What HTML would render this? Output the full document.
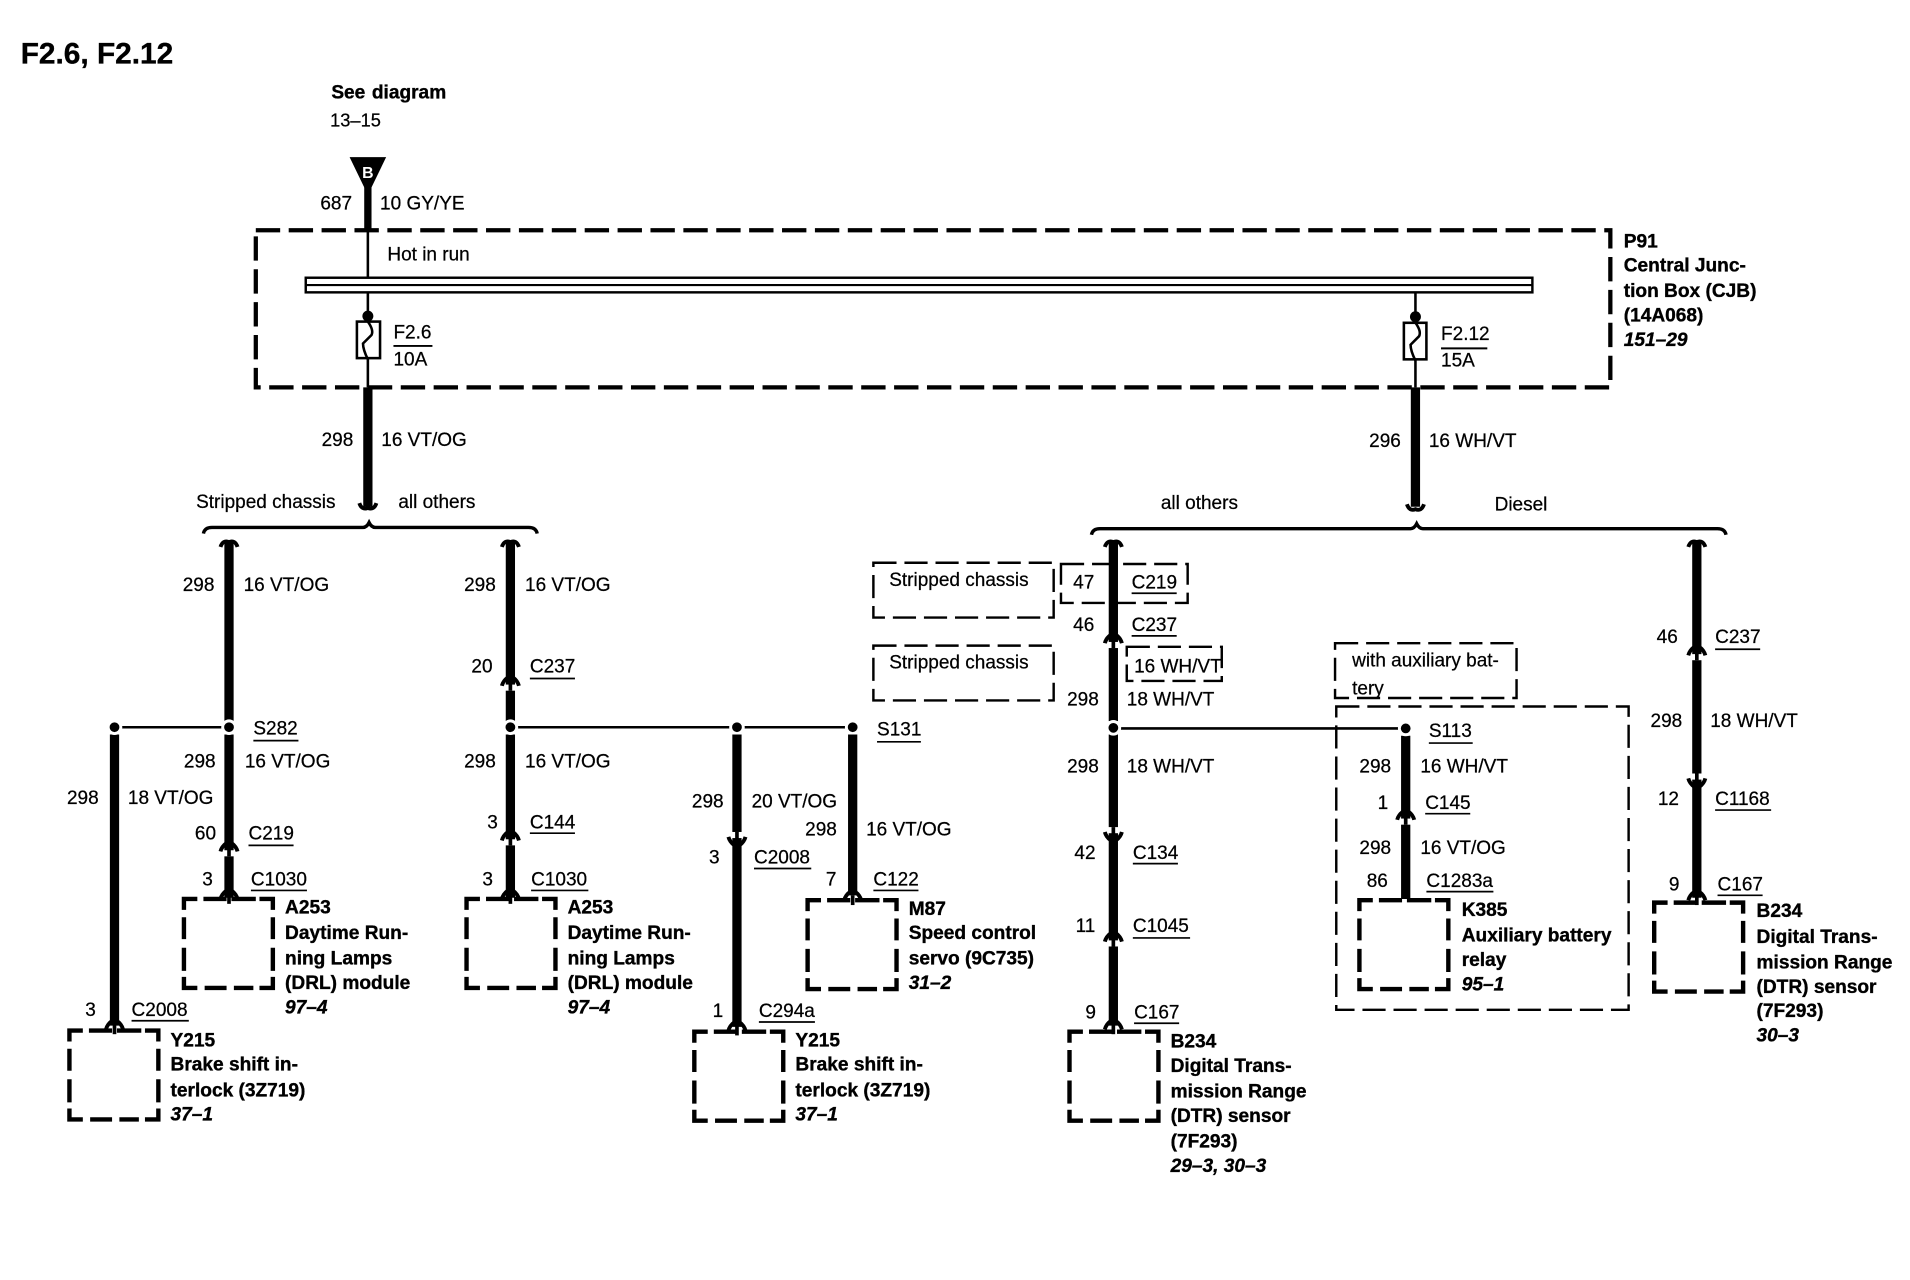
<!DOCTYPE html>
<html>
<head>
<meta charset="utf-8">
<title>F2.6, F2.12</title>
<style>
html,body{margin:0;padding:0;background:#fff;width:1910px;height:1280px;overflow:hidden}
svg{display:block}
text{font-family:"Liberation Sans",sans-serif;font-size:15.6px;fill:#000;stroke:#000;stroke-width:.2}
.b{font-weight:bold;font-size:15.7px;stroke-width:.3}
.i{font-weight:bold;font-style:italic;font-size:15.7px;stroke-width:.3}
.w{stroke:#000;stroke-width:7.6;fill:none}
.t{stroke:#000;stroke-width:2.1;fill:none}
.u{stroke:#000;stroke-width:1.4;fill:none}
.box{stroke:#000;stroke-width:3.5;fill:none;stroke-dasharray:20 7}
.thin{stroke:#000;stroke-width:2;fill:none;stroke-dasharray:19 6.5}
.ch{stroke:#000;stroke-width:3.2;fill:none}
.m{stroke:#000;stroke-width:3.6;fill:none}
.dot{fill:#000;stroke:#fff;stroke-width:2.4}
</style>
</head>
<body>
<svg xmlns="http://www.w3.org/2000/svg" width="1910" height="1280" viewBox="0 0 1568 1050.8">
<defs>
<g id="up"><rect x="-6" y="3" width="12" height="5" fill="#fff"/><path d="M0 0V8" stroke="#000" stroke-width="3"/><path d="M-7 4Q-6 0 -2 -3M7 4Q6 0 2 -3" class="ch"/></g>
<g id="dn"><rect x="-6" y="-8" width="12" height="5" fill="#fff"/><path d="M0 0V-8" stroke="#000" stroke-width="3"/><path d="M-7 -4Q-6 0 -2 3M7 -4Q6 0 2 3" class="ch"/></g>
<path id="top" d="M-7 4Q-5 -2 0 0Q5 -2 7 4" class="ch"/>
<path id="bot" d="M-7 -5Q-5 1 0 -1Q5 1 7 -5" class="ch"/>
<path id="mod" class="m" d="M0 9V0H11M16 0H35M39 0H59M62 0H73V9M0 15V33M0 40V59M0 64V73H11M73 15V33M73 40V59M73 64V73H62M17 73H35M41 73H57"/>
</defs>

<text x="17" y="52" style="font-size:24.5px;font-weight:bold;stroke-width:.3">F2.6, F2.12</text>
<text x="272" y="81" class="b" word-spacing="1">See diagram</text>
<text x="271" y="104" style="font-size:15px">13–15</text>

<!-- source -->
<polygon points="287,129 317,129 302,160" fill="#000"/>
<text x="302" y="146" text-anchor="middle" style="font-size:13px;font-weight:bold;fill:#fff;stroke:none">B</text>
<path d="M302 150V190" class="w" style="stroke-width:6"/>
<path d="M302 190V228" class="t"/>
<text x="263" y="172">687</text><text x="312" y="172">10 GY/YE</text>
<text x="318" y="214">Hot in run</text>

<!-- CJB -->
<rect x="210" y="189" width="1112" height="129" class="box"/>
<rect x="251" y="228" width="1007" height="12" fill="#fff" stroke="#000" stroke-width="2"/>
<path d="M251 234H1258" class="t" style="stroke-width:1.8"/>

<!-- fuse left -->
<path d="M302 240V318" class="t"/>
<circle cx="302" cy="259.500" r="4.500" fill="#000"/>
<rect x="293" y="264" width="19" height="30" fill="#fff" stroke="#000" stroke-width="2.100"/>
<path d="M302 264Q307 271 305 275Q301 279 298 282Q298 287 302 295" class="t"/>
<text x="323" y="278">F2.6</text><path d="M323 284H355" class="t" style="stroke-width:1.6"/><text x="323" y="300">10A</text>

<!-- fuse right -->
<path d="M1162 240V318" class="t"/>
<circle cx="1162" cy="260" r="4.500" fill="#000"/>
<rect x="1152.500" y="265" width="18.500" height="30" fill="#fff" stroke="#000" stroke-width="2.100"/>
<path d="M1162 265Q1167 272 1165 276Q1161 280 1158 283Q1158 288 1162 296" class="t"/>
<text x="1183" y="279">F2.12</text><path d="M1183 286H1221" class="t" style="stroke-width:1.6"/><text x="1183" y="301">15A</text>

<text x="1333" y="203" class="b">P91</text>
<text x="1333" y="223" class="b">Central Junc-</text>
<text x="1333" y="244" class="b">tion Box (CJB)</text>
<text x="1333" y="264" class="b">(14A068)</text>
<text x="1333" y="284" class="i">151–29</text>

<!-- mains -->
<path d="M302 318V416" class="w"/><use href="#bot" x="302" y="418"/>
<text x="264" y="366">298</text><text x="313" y="366">16 VT/OG</text>
<path d="M1162 318V416" class="w"/><use href="#bot" x="1162" y="419"/>
<text x="1124" y="367">296</text><text x="1173" y="367">16 WH/VT</text>
<text x="161" y="417">Stripped chassis</text><text x="327" y="417">all others</text>
<text x="953" y="418">all others</text><text x="1227" y="419">Diesel</text>

<!-- braces -->
<path d="M167 438Q168 433 174 433H298Q301 433 303 429Q305 433 308 433H434Q440 433 441 438" class="t" style="stroke-width:2.8"/>
<path d="M896 439Q897 434 903 434H1158Q1161 434 1163 430Q1165 434 1168 434H1410Q1416 434 1417 439" class="t" style="stroke-width:2.8"/>

<!-- branch x=188 -->
<use href="#top" x="188" y="445"/>
<path d="M188 445V592M188 603V738" class="w"/>
<use href="#up" x="188" y="695"/><use href="#up" x="188" y="734"/>
<path d="M100 597H183" class="t"/>
<path d="M94 603V842" class="w"/>
<use href="#up" x="94" y="841"/>
<circle cx="94" cy="597" r="5.200" class="dot"/><circle cx="188" cy="597" r="5.200" class="dot"/>
<text x="150" y="485">298</text><text x="200" y="485">16 VT/OG</text>
<text x="208" y="603">S282</text><path d="M208 608H245" class="u"/>
<text x="151" y="630">298</text><text x="201" y="630">16 VT/OG</text>
<text x="55" y="660">298</text><text x="105" y="660">18 VT/OG</text>
<text x="160" y="689">60</text><text x="204" y="689">C219</text><path d="M204 694H241" class="u"/>
<text x="166" y="727">3</text><text x="206" y="727">C1030</text><path d="M206 731H252" class="u"/>
<text x="70" y="834">3</text><text x="108" y="834">C2008</text><path d="M108 838H155" class="u"/>
<use href="#mod" x="151" y="738"/>
<text x="234" y="750" class="b">A253</text>
<text x="234" y="771" class="b">Daytime Run-</text>
<text x="234" y="792" class="b">ning Lamps</text>
<text x="234" y="812" class="b">(DRL) module</text>
<text x="234" y="832" class="i">97–4</text>
<use href="#mod" x="57" y="846"/>
<text x="140" y="859" class="b">Y215</text>
<text x="140" y="879" class="b">Brake shift in-</text>
<text x="140" y="900" class="b">terlock (3Z719)</text>
<text x="140" y="920" class="i">37–1</text>

<!-- branch x=419 -->
<use href="#top" x="419" y="445"/>
<path d="M419 445V592M419 603V738" class="w"/>
<use href="#up" x="419" y="559"/><use href="#up" x="419" y="686"/><use href="#up" x="419" y="734"/>
<path d="M425 597H695" class="t"/>
<circle cx="419" cy="597" r="5.200" class="dot"/>
<circle cx="605" cy="597" r="5.200" class="dot"/>
<circle cx="700" cy="597" r="5.200" class="dot"/>
<text x="381" y="485">298</text><text x="431" y="485">16 VT/OG</text>
<text x="387" y="552">20</text><text x="435" y="552">C237</text><path d="M435 557H472" class="u"/>
<text x="381" y="630">298</text><text x="431" y="630">16 VT/OG</text>
<text x="400" y="680">3</text><text x="435" y="680">C144</text><path d="M435 684H472" class="u"/>
<text x="396" y="727">3</text><text x="436" y="727">C1030</text><path d="M436 731H483" class="u"/>
<use href="#mod" x="383" y="738"/>
<text x="466" y="750" class="b">A253</text>
<text x="466" y="771" class="b">Daytime Run-</text>
<text x="466" y="792" class="b">ning Lamps</text>
<text x="466" y="812" class="b">(DRL) module</text>
<text x="466" y="832" class="i">97–4</text>

<!-- branch x=605 -->
<path d="M605 603V843" class="w"/>
<use href="#dn" x="605" y="691"/><use href="#up" x="605" y="842"/>
<text x="568" y="663">298</text><text x="617" y="663">20 VT/OG</text>
<text x="582" y="709">3</text><text x="619" y="709">C2008</text><path d="M619 713H666" class="u"/>
<text x="585" y="835">1</text><text x="623" y="835">C294a</text><path d="M623 839H669" class="u"/>
<use href="#mod" x="570" y="847"/>
<text x="653" y="859" class="b">Y215</text>
<text x="653" y="879" class="b">Brake shift in-</text>
<text x="653" y="900" class="b">terlock (3Z719)</text>
<text x="653" y="920" class="i">37–1</text>

<!-- branch x=700 -->
<path d="M700 603V735" class="w"/>
<use href="#up" x="700" y="735"/>
<text x="720" y="604">S131</text><path d="M720 609H756" class="u"/>
<text x="661" y="686">298</text><text x="711" y="686">16 VT/OG</text>
<text x="678" y="727">7</text><text x="717" y="727">C122</text><path d="M717 731H754" class="u"/>
<use href="#mod" x="663" y="739"/>
<text x="746" y="751" class="b">M87</text>
<text x="746" y="771" class="b">Speed control</text>
<text x="746" y="792" class="b">servo (9C735)</text>
<text x="746" y="812" class="i">31–2</text>

<!-- branch x=914 -->
<rect x="717" y="462" width="148" height="45" class="thin"/>
<text x="730" y="481">Stripped chassis</text>
<rect x="717" y="530" width="148" height="45" class="thin"/>
<text x="730" y="549">Stripped chassis</text>
<rect x="871" y="463" width="104" height="32" class="thin"/>
<rect x="925" y="531" width="78" height="28" class="thin"/>
<use href="#top" x="914" y="445"/>
<path d="M914 445V592M914 603V842" class="w"/>
<use href="#up" x="914" y="524"/><use href="#dn" x="914" y="687"/><use href="#up" x="914" y="769"/><use href="#up" x="914" y="841"/>
<path d="M920 598H1149" class="t"/>
<circle cx="914" cy="597.500" r="5.200" class="dot"/>
<text x="881" y="483">47</text><text x="929" y="483">C219</text><path d="M929 487H966" class="u"/>
<text x="881" y="518">46</text><text x="929" y="518">C237</text><path d="M929 522H966" class="u"/>
<text x="931" y="552">16 WH/VT</text>
<text x="876" y="579">298</text><text x="925" y="579">18 WH/VT</text>
<text x="876" y="634">298</text><text x="925" y="634">18 WH/VT</text>
<text x="882" y="705">42</text><text x="930" y="705">C134</text><path d="M930 709H967" class="u"/>
<text x="883" y="765">11</text><text x="930" y="765">C1045</text><path d="M930 770H977" class="u"/>
<text x="891" y="836">9</text><text x="931" y="836">C167</text><path d="M931 840H968" class="u"/>
<use href="#mod" x="878" y="847"/>
<text x="961" y="860" class="b">B234</text>
<text x="961" y="880" class="b">Digital Trans-</text>
<text x="961" y="901" class="b">mission Range</text>
<text x="961" y="921" class="b">(DTR) sensor</text>
<text x="961" y="942" class="b">(7F293)</text>
<text x="961" y="962" class="i">29–3, 30–3</text>

<!-- branch x=1154 -->
<rect x="1096" y="528" width="149" height="45" class="thin"/>
<text x="1110" y="547">with auxiliary bat-</text>
<text x="1110" y="570">tery</text>
<rect x="1097" y="580" width="240" height="249" class="thin"/>
<path d="M1154 604V738" class="w"/>
<use href="#up" x="1154" y="669"/>
<circle cx="1154" cy="598" r="5.200" class="dot"/>
<text x="1173" y="605">S113</text><path d="M1173 610H1209" class="u"/>
<text x="1116" y="634">298</text><text x="1166" y="634">16 WH/VT</text>
<text x="1131" y="664">1</text><text x="1170" y="664">C145</text><path d="M1170 668H1207" class="u"/>
<text x="1116" y="701">298</text><text x="1166" y="701">16 VT/OG</text>
<text x="1122" y="728">86</text><text x="1171" y="728">C1283a</text><path d="M1171 732H1226" class="u"/>
<use href="#mod" x="1116" y="739"/>
<text x="1200" y="752" class="b">K385</text>
<text x="1200" y="773" class="b">Auxiliary battery</text>
<text x="1200" y="793" class="b">relay</text>
<text x="1200" y="813" class="i">95–1</text>

<!-- branch x=1393 -->
<use href="#top" x="1393" y="445"/>
<path d="M1393 445V737" class="w"/>
<use href="#up" x="1393" y="534"/><use href="#dn" x="1393" y="643"/><use href="#up" x="1393" y="735"/>
<text x="1360" y="528">46</text><text x="1408" y="528">C237</text><path d="M1408 533H1445" class="u"/>
<text x="1355" y="597">298</text><text x="1404" y="597">18 WH/VT</text>
<text x="1361" y="661">12</text><text x="1408" y="661">C1168</text><path d="M1408 665H1454" class="u"/>
<text x="1370" y="731">9</text><text x="1410" y="731">C167</text><path d="M1410 735H1447" class="u"/>
<use href="#mod" x="1358" y="741"/>
<text x="1442" y="753" class="b">B234</text>
<text x="1442" y="774" class="b">Digital Trans-</text>
<text x="1442" y="795" class="b">mission Range</text>
<text x="1442" y="815" class="b">(DTR) sensor</text>
<text x="1442" y="835" class="b">(7F293)</text>
<text x="1442" y="855" class="i">30–3</text>
</svg>
</body>
</html>
